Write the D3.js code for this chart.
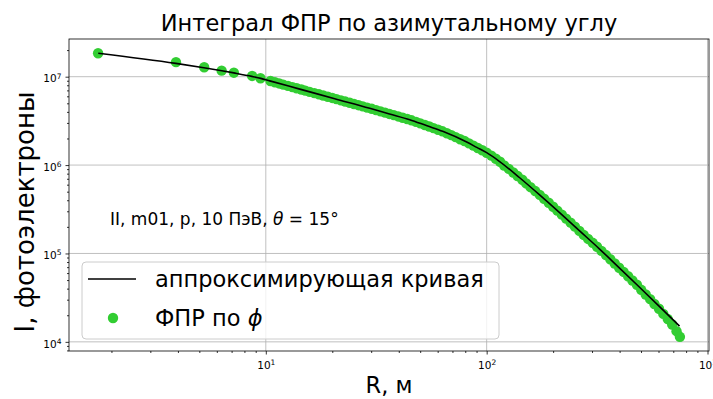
<!DOCTYPE html>
<html>
<head>
<meta charset="utf-8">
<script src="https://cdn.jsdelivr.net/npm/d3@7"></script>
<style>
  body { margin: 0; background: #fff; }
  text { font-family: "DejaVu Sans", sans-serif; fill: #000; }
</style>
</head>
<body>
<div id="chart"></div>
<script>
// data
// scatter: integral of the LDF over azimuth angle (phi)
var phiR = [1.74, 3.92, 5.26, 6.31, 7.17, 8.67, 9.46,
    10.5, 11.0, 11.5, 12.0, 12.6, 13.2, 13.8, 14.5, 15.1, 15.8,
    16.6, 17.4, 18.2, 19.1, 20.0, 20.9, 21.9, 22.9, 24.0, 25.1,
    26.3, 27.5, 28.8, 30.2, 31.6, 33.1, 34.7, 36.3, 38.0, 39.8,
    41.7, 43.7, 45.7, 47.9, 50.1, 52.5, 55.0, 57.5, 60.3, 63.1,
    66.1, 69.2, 72.4, 75.9, 79.4, 83.2, 87.1, 91.2, 95.5, 100,
    105, 110, 115, 120, 126, 132, 138, 145, 151, 158,
    166, 174, 182, 191, 200, 209, 219, 229, 240, 251,
    263, 275, 288, 302, 316, 331, 347, 363, 380, 398,
    417, 437, 457, 479, 501, 525, 550, 575, 603, 631,
    661, 692, 724, 750];
var phiI = [1.84e7, 1.46e7, 1.28e7, 1.17e7, 1.11e7, 1.02e7, 9.6e6,
    8.94e6, 8.66e6, 8.39e6, 8.13e6, 7.88e6, 7.63e6, 7.40e6, 7.17e6, 6.95e6, 6.73e6,
    6.52e6, 6.32e6, 6.12e6, 5.93e6, 5.75e6, 5.57e6, 5.40e6, 5.23e6, 5.07e6, 4.91e6,
    4.76e6, 4.61e6, 4.47e6, 4.33e6, 4.19e6, 4.05e6, 3.92e6, 3.79e6, 3.67e6, 3.55e6,
    3.43e6, 3.32e6, 3.21e6, 3.08e6, 2.96e6, 2.84e6, 2.73e6, 2.62e6, 2.51e6, 2.41e6,
    2.29e6, 2.18e6, 2.07e6, 1.96e6, 1.87e6, 1.76e6, 1.66e6, 1.56e6, 1.47e6, 1.38e6,
    1.28e6, 1.18e6, 1.09e6, 9.90e5, 9.05e5, 8.25e5, 7.52e5, 6.83e5, 6.20e5, 5.62e5,
    5.08e5, 4.60e5, 4.16e5, 3.75e5, 3.38e5, 3.05e5, 2.75e5, 2.48e5, 2.23e5, 2.01e5,
    1.80e5, 1.62e5, 1.46e5, 1.32e5, 1.19e5, 1.07e5, 9.59e4, 8.59e4, 7.70e4, 6.90e4,
    6.18e4, 5.53e4, 4.95e4, 4.43e4, 3.88e4, 3.43e4, 3.04e4, 2.68e4, 2.37e4, 2.07e4,
    1.81e4, 1.57e4, 1.32e4, 1.14e4];

// approximating curve
var fitR = [1.743, 3.915, 5.243, 6.322, 7.165, 8.644, 9.493, 10.42, 14.25, 20.52,
    29.56, 36.3, 44.83, 53.7, 63.22, 81.21, 90.2, 100, 114.5, 141.1, 173.7, 213.9, 263.6,
    324.6, 399.7, 492.4, 606.5, 747.0];
var fitI = [1.845e7, 1.415e7, 1.265e7, 1.169e7, 1.104e7, 1.008e7, 9.566e6, 8.964e6, 7.237e6, 5.636e6,
    4.398e6, 3.79e6, 3.262e6, 2.78e6, 2.410e6, 1.821e6, 1.585e6, 1.381e6, 1.097e6, 7.19e5, 4.60e5, 2.90e5, 1.80e5,
    1.122e5, 6.833e4, 4.142e4, 2.504e4, 1.506e4];

var majorX = [10, 100, 1000];
var majorY = [1e4, 1e5, 1e6, 1e7];

var svgWidth = 713;
var svgHeight = 399;
var margin = { top: 39, right: 4, bottom: 48, left: 69 };
var width = svgWidth - margin.left - margin.right;
var height = svgHeight - margin.top - margin.bottom;

var svg = d3.select("#chart")
    .append("svg")
    .attr("width", svgWidth)
    .attr("height", svgHeight);

var chartGroup = svg.append("g")
    .attr("transform", `translate(${margin.left}, ${margin.top})`);

// log limits padded 5% on each side, like matplotlib does
function logLimits(values) {
    var lo = Math.log10(d3.min(values));
    var hi = Math.log10(d3.max(values));
    var pad = (hi - lo) * 0.05;
    return [Math.pow(10, lo - pad), Math.pow(10, hi + pad)];
}

var xLogScale = d3.scaleLog()
    .domain(logLimits(phiR.concat(fitR)))
    .range([0, width]);
var yLogScale = d3.scaleLog()
    .domain(logLimits(phiI.concat(fitI)))
    .range([height, 0]);

// grid
chartGroup.append("g").selectAll("line")
    .data(majorX.filter(d => d <= xLogScale.domain()[1]))
    .enter().append("line")
    .attr("x1", d => xLogScale(d)).attr("x2", d => xLogScale(d))
    .attr("y1", 0).attr("y2", height)
    .attr("stroke", "#b0b0b0").attr("stroke-width", 0.8);
chartGroup.append("g").selectAll("line")
    .data(majorY)
    .enter().append("line")
    .attr("y1", d => yLogScale(d)).attr("y2", d => yLogScale(d))
    .attr("x1", 0).attr("x2", width)
    .attr("stroke", "#b0b0b0").attr("stroke-width", 0.8);

// scatter
chartGroup.append("g").selectAll("circle")
    .data(phiR)
    .enter()
    .append("circle")
    .attr("cx", d => xLogScale(d))
    .attr("cy", (d, i) => yLogScale(phiI[i]))
    .attr("r", 5.2)
    .attr("fill", "#32cd32");

// fit line
var line = d3.line()
    .x(d => xLogScale(d[0]))
    .y(d => yLogScale(d[1]))
    .curve(d3.curveMonotoneX);
chartGroup.append("path")
    .datum(fitR.map((r, i) => [r, fitI[i]]))
    .attr("d", line)
    .attr("fill", "none")
    .attr("stroke", "#000")
    .attr("stroke-width", 1.6);

// axes
function powerLabel(sel) {
    sel.each(function(d) {
        var t = d3.select(this).text(null);
        t.append("tspan").text("10");
        t.append("tspan").attr("dy", "-0.5em").style("font-size", "7.5px")
            .text(Math.round(Math.log10(d)));
    });
}
function styleAxis(g) {
    g.select(".domain").remove();
    g.selectAll(".tick line").attr("stroke", "#000").attr("stroke-width", 0.8);
    g.selectAll(".tick text").style("font-size", "10.5px").attr("fill", "#000");
}

var minorX = xLogScale.ticks().filter(d => majorX.indexOf(d) < 0);
var minorY = yLogScale.ticks().filter(d => majorY.indexOf(d) < 0);

var xAxis = chartGroup.append("g")
    .attr("transform", `translate(0, ${height})`)
    .call(d3.axisBottom(xLogScale).tickValues(majorX).tickSize(3.5).tickPadding(4));
styleAxis(xAxis);
xAxis.selectAll(".tick text").attr("dy", "1em").call(powerLabel);
chartGroup.append("g")
    .attr("transform", `translate(0, ${height})`)
    .call(d3.axisBottom(xLogScale).tickValues(minorX).tickSize(2).tickFormat(""))
    .call(styleAxis);

var yAxis = chartGroup.append("g")
    .call(d3.axisLeft(yLogScale).tickValues(majorY).tickSize(3.5).tickPadding(4));
styleAxis(yAxis);
yAxis.selectAll(".tick text").attr("dy", "0.5em").call(powerLabel);
chartGroup.append("g")
    .call(d3.axisLeft(yLogScale).tickValues(minorY).tickSize(2).tickFormat(""))
    .call(styleAxis);

// frame
chartGroup.append("rect")
    .attr("width", width).attr("height", height)
    .attr("fill", "none").attr("stroke", "#000").attr("stroke-width", 0.8);

// annotation
var note = chartGroup.append("text")
    .attr("x", 41).attr("y", 186)
    .style("font-size", "17px");
note.append("tspan").text("II, m01, p, 10 ПэВ, ");
note.append("tspan").style("font-style", "italic").text("θ");
note.append("tspan").text(" = 15°");

// legend
var legend = chartGroup.append("g")
    .attr("transform", "translate(13, 223)");
legend.append("rect")
    .attr("width", 417).attr("height", 77).attr("rx", 4)
    .attr("fill", "#fff").attr("fill-opacity", 0.8)
    .attr("stroke", "#cccccc").attr("stroke-width", 1);
legend.append("line")
    .attr("x1", 6).attr("x2", 54).attr("y1", 17).attr("y2", 17)
    .attr("stroke", "#000").attr("stroke-width", 1.6);
legend.append("text")
    .attr("x", 73).attr("y", 25)
    .style("font-size", "22.5px")
    .text("аппроксимирующая кривая");
legend.append("circle")
    .attr("cx", 31).attr("cy", 56).attr("r", 5.2)
    .attr("fill", "#32cd32");
var lab2 = legend.append("text")
    .attr("x", 73).attr("y", 64)
    .style("font-size", "22.5px");
lab2.append("tspan").text("ФПР по ");
lab2.append("tspan").style("font-style", "italic").text("ϕ");

// title and axis labels
svg.append("text")
    .attr("x", margin.left + width / 2).attr("y", 31)
    .attr("text-anchor", "middle")
    .style("font-size", "22.5px")
    .text("Интеграл ФПР по азимутальному углу");
svg.append("text")
    .attr("x", margin.left + width / 2).attr("y", 393)
    .attr("text-anchor", "middle")
    .style("font-size", "22.5px")
    .text("R, м");
svg.append("text")
    .attr("transform", "translate(34, 212) rotate(-90)")
    .attr("text-anchor", "middle")
    .style("font-size", "26px")
    .text("I, фотоэлектроны");
</script>
</body>
</html>
